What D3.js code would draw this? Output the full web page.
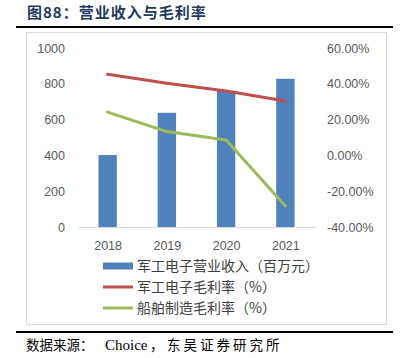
<!DOCTYPE html>
<html lang="zh">
<head>
<meta charset="UTF-8">
<title>图88 营业收入与毛利率</title>
<script src="https://d3js.org/d3.v7.min.js"></script>
<style>
  html, body { margin: 0; padding: 0; background: #fff; }
  .tick-label { font-family: "Liberation Sans", Arial, sans-serif; font-size: 12.5px; fill: #595959; }
  .legend-label { font-family: "Noto Sans CJK SC", sans-serif; font-size: 14px; fill: #404040; }
</style>
</head>
<body>
<div id="chart"></div>
<script>
  // ## Data
  const years = ["2018", "2019", "2020", "2021"];
  const revenue = [402, 638, 760, 828];            // 军工电子营业收入（百万元）
  const marginMilitary = [45.3, 40.3, 36.0, 30.4]; // 军工电子毛利率（%）
  const marginShip = [24.2, 13.3, 8.6, -28.3];     // 船舶制造毛利率（%）
  const leftTicks = [0, 200, 400, 600, 800, 1000];
  const rightTicks = [-40, -20, 0, 20, 40, 60];
  const seriesNames = ["军工电子营业收入（百万元）", "军工电子毛利率（%）", "船舶制造毛利率（%）"];

  const colors = { bar: "#4F81BD", red: "#C0504D", green: "#9BBB59" };

  const width = 403, height = 358;
  const plot = { left: 78, right: 315, top: 48, bottom: 227 };

  const svg = d3.select("#chart").append("svg")
      .attr("width", width)
      .attr("height", height);

  // ## Header
  svg.append("text")
      .attr("x", 27).attr("y", 18)
      .attr("font-family", "Noto Sans CJK SC, sans-serif")
      .attr("font-weight", "bold")
      .attr("font-size", 15)
      .attr("letter-spacing", 1)
      .attr("fill", "#1F3A5F")
      .text("图88：营业收入与毛利率");

  svg.append("line")
      .attr("x1", 16).attr("x2", 393).attr("y1", 27).attr("y2", 27)
      .attr("stroke", "#000").attr("stroke-width", 2);

  // chart frame
  svg.append("rect")
      .attr("x", 26.5).attr("y", 32.5)
      .attr("width", 360).attr("height", 292)
      .attr("fill", "none").attr("stroke", "#d9d9d9");

  // ## Scales
  const x = d3.scaleBand().domain(years).range([plot.left, plot.right]).paddingInner(0.69).paddingOuter(0.345);
  const xc = d3.scalePoint().domain(years).range([plot.left, plot.right]).padding(0.5);
  const yLeft = d3.scaleLinear().domain([0, 1000]).range([plot.bottom, plot.top]);
  const yRight = d3.scaleLinear().domain([-40, 60]).range([plot.bottom, plot.top]);

  const restyle = g => g.selectAll("text")
      .attr("class", "tick-label").attr("font-size", null).attr("font-family", null).attr("fill", null);

  // ## Axes
  svg.append("g")
      .attr("transform", `translate(${plot.left - 13},0)`)
      .call(d3.axisLeft(yLeft).tickValues(leftTicks).tickSize(0).tickPadding(0).tickFormat(d3.format("d")))
      .call(g => g.select(".domain").remove())
      .call(restyle);

  svg.append("g")
      .attr("transform", `translate(${plot.right + 12},0)`)
      .call(d3.axisRight(yRight).tickValues(rightTicks).tickSize(0).tickPadding(0)
          .tickFormat(d => d.toFixed(2) + "%"))
      .call(g => g.select(".domain").remove())
      .call(restyle);

  svg.append("g")
      .attr("transform", `translate(0,${plot.bottom})`)
      .call(d3.axisBottom(xc).tickSize(0).tickPadding(14))
      .call(g => g.select(".domain").attr("stroke", "#d9d9d9"))
      .call(restyle);

  // ## Bars
  svg.selectAll(".bar")
      .data(years.map((y, i) => ({ year: y, value: revenue[i] })))
      .join("rect")
      .attr("class", "bar")
      .attr("x", d => x(d.year))
      .attr("y", d => yLeft(d.value))
      .attr("width", x.bandwidth())
      .attr("height", d => plot.bottom - yLeft(d.value))
      .attr("fill", colors.bar);

  // ## Lines
  const line = d3.line()
      .x((d, i) => xc(years[i]))
      .y(d => yRight(d));

  svg.append("path").datum(marginMilitary)
      .attr("d", line).attr("fill", "none")
      .attr("stroke", colors.red).attr("stroke-width", 3)
      .attr("stroke-linecap", "round").attr("stroke-linejoin", "round");

  svg.append("path").datum(marginShip)
      .attr("d", line).attr("fill", "none")
      .attr("stroke", colors.green).attr("stroke-width", 3)
      .attr("stroke-linecap", "round").attr("stroke-linejoin", "round");

  // ## Legend
  const legend = svg.append("g").attr("transform", "translate(103,266)");
  seriesNames.forEach((name, i) => {
    const g = legend.append("g").attr("transform", `translate(0,${i * 21})`);
    if (i === 0) {
      g.append("rect").attr("x", 0).attr("y", -3.5).attr("width", 30).attr("height", 7).attr("fill", colors.bar);
    } else {
      g.append("line").attr("x1", 0).attr("x2", 30).attr("y1", 0).attr("y2", 0)
        .attr("stroke", i === 1 ? colors.red : colors.green).attr("stroke-width", 3);
    }
    g.append("text").attr("class", "legend-label").attr("x", 34).attr("y", 5).text(name);
  });

  // ## Footer
  svg.append("line")
      .attr("x1", 16).attr("x2", 393).attr("y1", 332).attr("y2", 332)
      .attr("stroke", "#000").attr("stroke-width", 2);

  const foot = svg.append("g")
      .attr("font-family", "Noto Sans CJK SC, sans-serif")
      .attr("font-size", 13.5)
      .attr("fill", "#000");
  foot.append("text").attr("x", 26).attr("y", 350).text("数据来源：");
  foot.append("text").attr("x", 105).attr("y", 350)
      .attr("font-family", "Liberation Serif, serif").attr("font-size", 15).text("Choice");
  foot.append("text").attr("x", 150).attr("y", 350).text("，");
  foot.append("text").attr("x", 167).attr("y", 350).attr("letter-spacing", 3).text("东吴证券研究所");
</script>
</body>
</html>
